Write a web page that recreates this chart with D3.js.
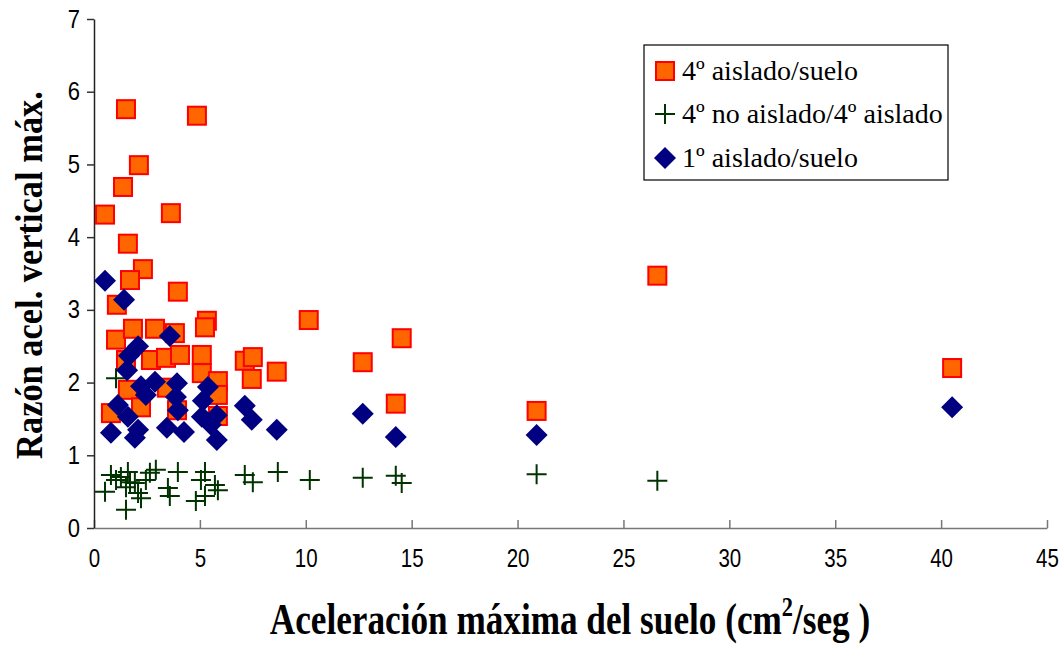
<!DOCTYPE html>
<html>
<head>
<meta charset="utf-8">
<script src="https://cdn.jsdelivr.net/npm/d3@7"></script>
<style>
  html, body { margin: 0; padding: 0; background: #fff; }
  svg { display: block; }
</style>
</head>
<body>
<svg id="chart" width="1063" height="646"></svg>
<script>
// Series: [x, y] pairs — x = aceleración máxima del suelo, y = razón de aceleración vertical
const seriesNames = ["4º aislado/suelo", "4º no aislado/4º aislado", "1º aislado/suelo"];

const aislado4Suelo = [
  [0.52, 4.31], [1.37, 4.69], [1.51, 5.76], [2.12, 4.99], [1.60, 3.91], [2.31, 3.56],
  [1.70, 3.41], [4.86, 5.67], [3.63, 4.33], [3.96, 3.25], [1.08, 3.07], [1.04, 2.59],
  [1.84, 2.74], [2.88, 2.74], [3.82, 2.68], [5.33, 2.85], [5.24, 2.76], [10.14, 2.86],
  [26.60, 3.47], [14.53, 2.61], [12.69, 2.28], [8.63, 2.15], [14.25, 1.71], [20.90, 1.61],
  [40.52, 2.20], [2.69, 2.31], [3.40, 2.34], [1.51, 2.31], [1.60, 1.90], [0.80, 1.58],
  [2.22, 1.66], [3.92, 1.62], [4.06, 2.38], [5.09, 2.38], [5.09, 2.13], [5.85, 2.02],
  [5.85, 1.83], [5.85, 1.54], [7.12, 2.30], [7.50, 2.35], [7.45, 2.05], [3.44, 1.93]
];

const noAislado4 = [
  [0.52, 0.50], [0.80, 0.73], [1.04, 0.66], [1.27, 0.70], [1.60, 0.77], [1.51, 0.56],
  [1.70, 0.63], [1.93, 0.62], [2.08, 0.48], [2.22, 0.41], [2.45, 0.66], [2.64, 0.76],
  [2.92, 0.80], [1.51, 0.25], [3.49, 0.55], [3.58, 0.44], [3.96, 0.77], [4.81, 0.37],
  [5.05, 0.66], [5.24, 0.77], [5.24, 0.44], [5.71, 0.59], [5.85, 0.52], [7.12, 0.73],
  [7.50, 0.63], [8.68, 0.77], [10.19, 0.66], [12.69, 0.69], [14.25, 0.72], [14.53, 0.62],
  [20.90, 0.74], [26.60, 0.65], [1.04, 2.06]
];

const aislado1Suelo = [
  [0.52, 3.40], [1.42, 3.14], [3.58, 2.64], [2.08, 2.50], [1.65, 2.37], [1.56, 2.17],
  [2.22, 1.95], [2.88, 2.01], [2.45, 1.83], [1.13, 1.69], [1.60, 1.53], [0.80, 1.31],
  [2.08, 1.35], [1.93, 1.24], [3.44, 1.38], [3.92, 1.99], [3.87, 1.80], [3.96, 1.62],
  [4.25, 1.32], [5.14, 1.75], [5.38, 1.94], [5.09, 1.53], [5.52, 1.42], [5.80, 1.55],
  [5.80, 1.21], [7.12, 1.68], [7.45, 1.49], [8.63, 1.35], [12.69, 1.57], [14.25, 1.25],
  [20.90, 1.28], [40.52, 1.66]
];

const xTicks = [0, 5, 10, 15, 20, 25, 30, 35, 40, 45];
const yTicks = [0, 1, 2, 3, 4, 5, 6, 7];

const svg = d3.select("#chart");
const plot = { left: 94, right: 1047, top: 19, bottom: 528 };

const x = d3.scaleLinear().domain([0, 45]).range([plot.left, plot.right]);
const y = d3.scaleLinear().domain([0, 7]).range([plot.bottom, plot.top]);

const sans = "Liberation Sans, Arial, sans-serif";
const serif = "Liberation Serif, Times New Roman, serif";

// Axes
const xAxis = svg.append("g")
  .attr("transform", `translate(0,${plot.bottom})`)
  .call(d3.axisBottom(x).tickValues(xTicks).tickFormat(d3.format("d"))
    .tickSize(-8).tickPadding(21).tickSizeOuter(0));
xAxis.select(".domain").attr("stroke", "#777").attr("stroke-width", 1.5);
xAxis.selectAll(".tick line").attr("stroke", "#777").attr("stroke-width", 1.5);
xAxis.selectAll(".tick text")
  .attr("font-family", sans).attr("font-size", 25).attr("fill", "#000")
  .attr("dy", "0.71em").attr("transform", "scale(0.82,1)");

const yAxis = svg.append("g")
  .attr("transform", `translate(${plot.left},0)`)
  .call(d3.axisLeft(y).tickValues(yTicks).tickFormat(d3.format("d"))
    .tickSize(7).tickPadding(9).tickSizeOuter(0));
yAxis.select(".domain").attr("stroke", "#222").attr("stroke-width", 1.5);
yAxis.selectAll(".tick line").attr("stroke", "#333").attr("stroke-width", 1.5);
yAxis.selectAll(".tick text")
  .attr("font-family", sans).attr("font-size", 25).attr("fill", "#000")
  .attr("transform", "scale(0.88,1)");

// Axis titles
svg.append("text")
  .attr("transform", `translate(42,275) rotate(-90) scale(0.93,1)`)
  .attr("text-anchor", "middle")
  .attr("font-family", serif)
  .attr("font-weight", "bold").attr("font-size", 37)
  .text("Razón acel. vertical máx.");

const xTitle = svg.append("text")
  .attr("transform", "translate(570,634) scale(0.8,1)")
  .attr("text-anchor", "middle")
  .attr("font-family", serif)
  .attr("font-weight", "bold").attr("font-size", 44);
xTitle.append("tspan").text("Aceleración máxima del suelo (cm");
xTitle.append("tspan").attr("font-size", 28).attr("dy", -18).text("2");
xTitle.append("tspan").attr("dy", 18).text("/seg )");

// Marker drawers
const sq = 18, dm = 11, pl = 10;
function drawSquare(g, cx, cy) {
  g.append("rect").attr("x", cx - sq / 2).attr("y", cy - sq / 2)
    .attr("width", sq).attr("height", sq)
    .attr("fill", "#FF6600").attr("stroke", "#FF0000").attr("stroke-width", 2);
}
function drawPlus(g, cx, cy) {
  g.append("path").attr("d", `M${cx - pl},${cy}H${cx + pl}M${cx},${cy - pl}V${cy + pl}`)
    .attr("stroke", "#003300").attr("stroke-width", 2).attr("fill", "none");
}
function drawDiamond(g, cx, cy) {
  g.append("path").attr("d", `M${cx},${cy - dm}L${cx + dm},${cy}L${cx},${cy + dm}L${cx - dm},${cy}Z`)
    .attr("fill", "#000080");
}

const marks = svg.append("g");
aislado4Suelo.forEach(d => drawSquare(marks, x(d[0]), y(d[1])));
noAislado4.forEach(d => drawPlus(marks, x(d[0]), y(d[1])));
aislado1Suelo.forEach(d => drawDiamond(marks, x(d[0]), y(d[1])));

// Legend
const lg = svg.append("g");
lg.append("rect").attr("x", 644).attr("y", 45).attr("width", 304).attr("height", 135)
  .attr("fill", "#fff").attr("stroke", "#000").attr("stroke-width", 1.2);
const drawers = [drawSquare, drawPlus, drawDiamond];
const rowY = [71, 114, 158];
seriesNames.forEach((name, i) => {
  drawers[i](lg, 665, rowY[i]);
  lg.append("text").attr("x", 682).attr("y", rowY[i] + 9)
    .attr("font-family", serif)
    .attr("font-size", 28).attr("fill", "#000")
    .text(name);
});
</script>
</body>
</html>
